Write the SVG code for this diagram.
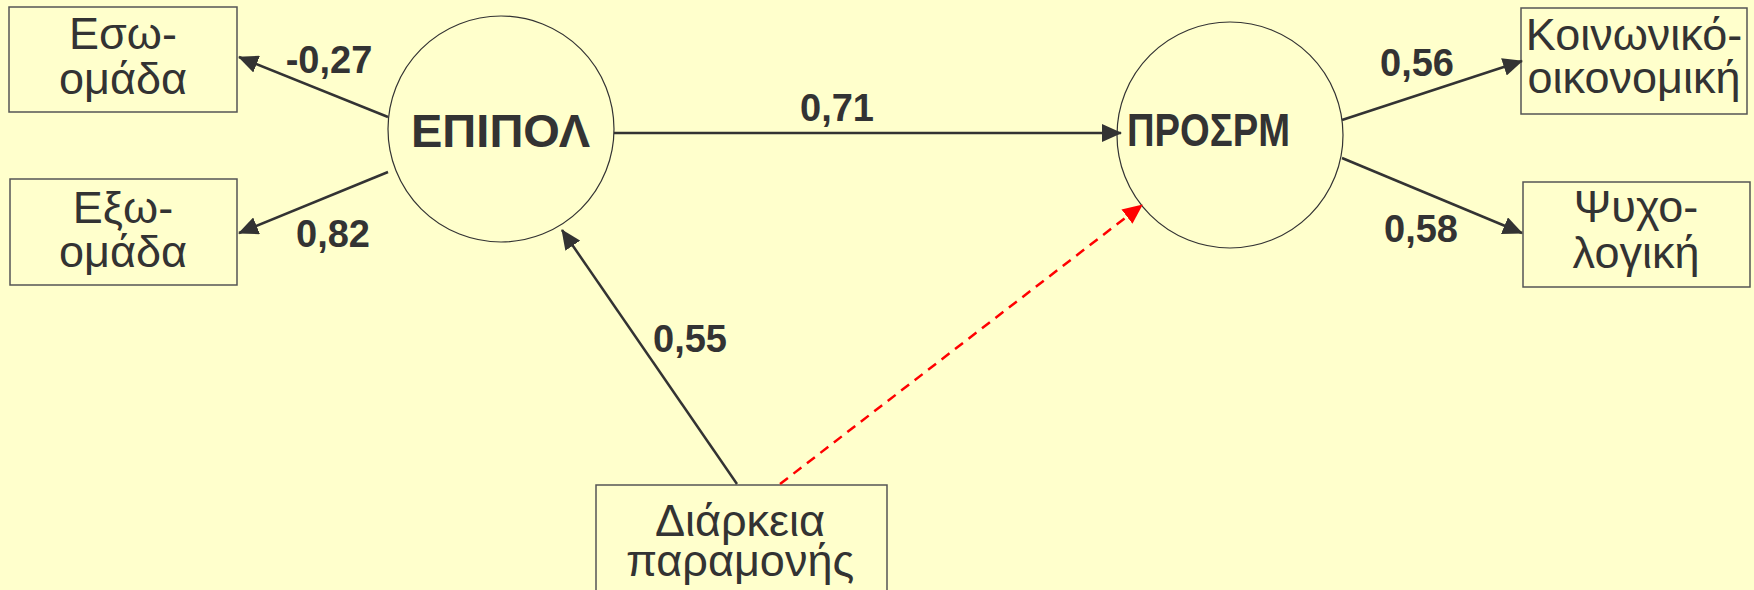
<svg xmlns="http://www.w3.org/2000/svg" width="1754" height="590" viewBox="0 0 1754 590">
<style>
.box{fill:#FFFFCC;stroke:#555;stroke-width:1.5}
.circ{fill:#FFFFCC;stroke:#333;stroke-width:1.2}
.btxt{font-family:"Liberation Sans",Arial,sans-serif;font-size:45px;fill:#333;text-anchor:middle}
.ctxt{font-family:"Liberation Sans",Arial,sans-serif;font-size:47px;font-weight:bold;fill:#333}
.lbl{font-family:"Liberation Sans",Arial,sans-serif;font-size:38px;font-weight:bold;fill:#333;text-anchor:middle}
.edge{stroke:#333;stroke-width:2.5;fill:none}
.dash{stroke:#FF0000;stroke-width:2.5;fill:none;stroke-dasharray:10 7}
</style>
<defs>
<marker id="ah" viewBox="0 0 20 18" refX="19" refY="9" markerWidth="20" markerHeight="18" markerUnits="userSpaceOnUse" orient="auto">
<path d="M0,0 L20,9 L0,18 z" fill="#333"/>
</marker>
<marker id="ahr" viewBox="0 0 20 18" refX="19" refY="9" markerWidth="20" markerHeight="18" markerUnits="userSpaceOnUse" orient="auto">
<path d="M0,0 L20,9 L0,18 z" fill="#FF0000"/>
</marker>
</defs>
<rect x="0" y="0" width="1754" height="590" fill="#FFFFCC"/>

<g id="eso">
<rect class="box" x="9" y="7" width="228" height="105"/>
<text class="btxt" x="123" y="49">Εσω-</text>
<text class="btxt" x="123" y="94">ομάδα</text>
</g>
<g id="exo">
<rect class="box" x="10" y="179" width="227" height="106"/>
<text class="btxt" x="123" y="223">Εξω-</text>
<text class="btxt" x="123" y="267">ομάδα</text>
</g>
<g id="epipol">
<ellipse class="circ" cx="501" cy="129" rx="113" ry="113"/>
<text class="ctxt" x="411" y="147" textLength="179" lengthAdjust="spacingAndGlyphs">ΕΠΙΠΟΛ</text>
</g>
<g id="prosrm">
<ellipse class="circ" cx="1230" cy="135" rx="113" ry="113"/>
<text class="ctxt" x="1127" y="146" textLength="163" lengthAdjust="spacingAndGlyphs">ΠΡΟΣΡΜ</text>
</g>
<g id="koin">
<rect class="box" x="1521" y="8" width="226" height="106"/>
<text class="btxt" x="1634" y="50">Κοινωνικό-</text>
<text class="btxt" x="1634" y="93">οικονομική</text>
</g>
<g id="psyx">
<rect class="box" x="1523" y="182" width="227" height="105"/>
<text class="btxt" x="1636" y="222">Ψυχο-</text>
<text class="btxt" x="1636" y="268">λογική</text>
</g>
<g id="diarkeia">
<rect class="box" x="596" y="485" width="291" height="120"/>
<text class="btxt" x="740" y="536">Διάρκεια</text>
<text class="btxt" x="740" y="576">παραμονής</text>
</g>

<g id="connectors">
<line class="edge" x1="388" y1="117" x2="239" y2="57" marker-end="url(#ah)"/>
<line class="edge" x1="388" y1="172" x2="239" y2="233" marker-end="url(#ah)"/>
<line class="edge" x1="614" y1="133" x2="1121" y2="133" marker-end="url(#ah)"/>
<line class="edge" x1="1342" y1="120" x2="1522" y2="61" marker-end="url(#ah)"/>
<line class="edge" x1="1342" y1="158" x2="1522" y2="233" marker-end="url(#ah)"/>
<line class="edge" x1="737" y1="484" x2="562" y2="230" marker-end="url(#ah)"/>
<line class="dash" x1="780" y1="484" x2="1142" y2="205" marker-end="url(#ahr)"/>
<text class="lbl" x="329" y="73">-0,27</text>
<text class="lbl" x="333" y="247">0,82</text>
<text class="lbl" x="837" y="121">0,71</text>
<text class="lbl" x="690" y="352">0,55</text>
<text class="lbl" x="1417" y="76">0,56</text>
<text class="lbl" x="1421" y="242">0,58</text>
</g>
</svg>
